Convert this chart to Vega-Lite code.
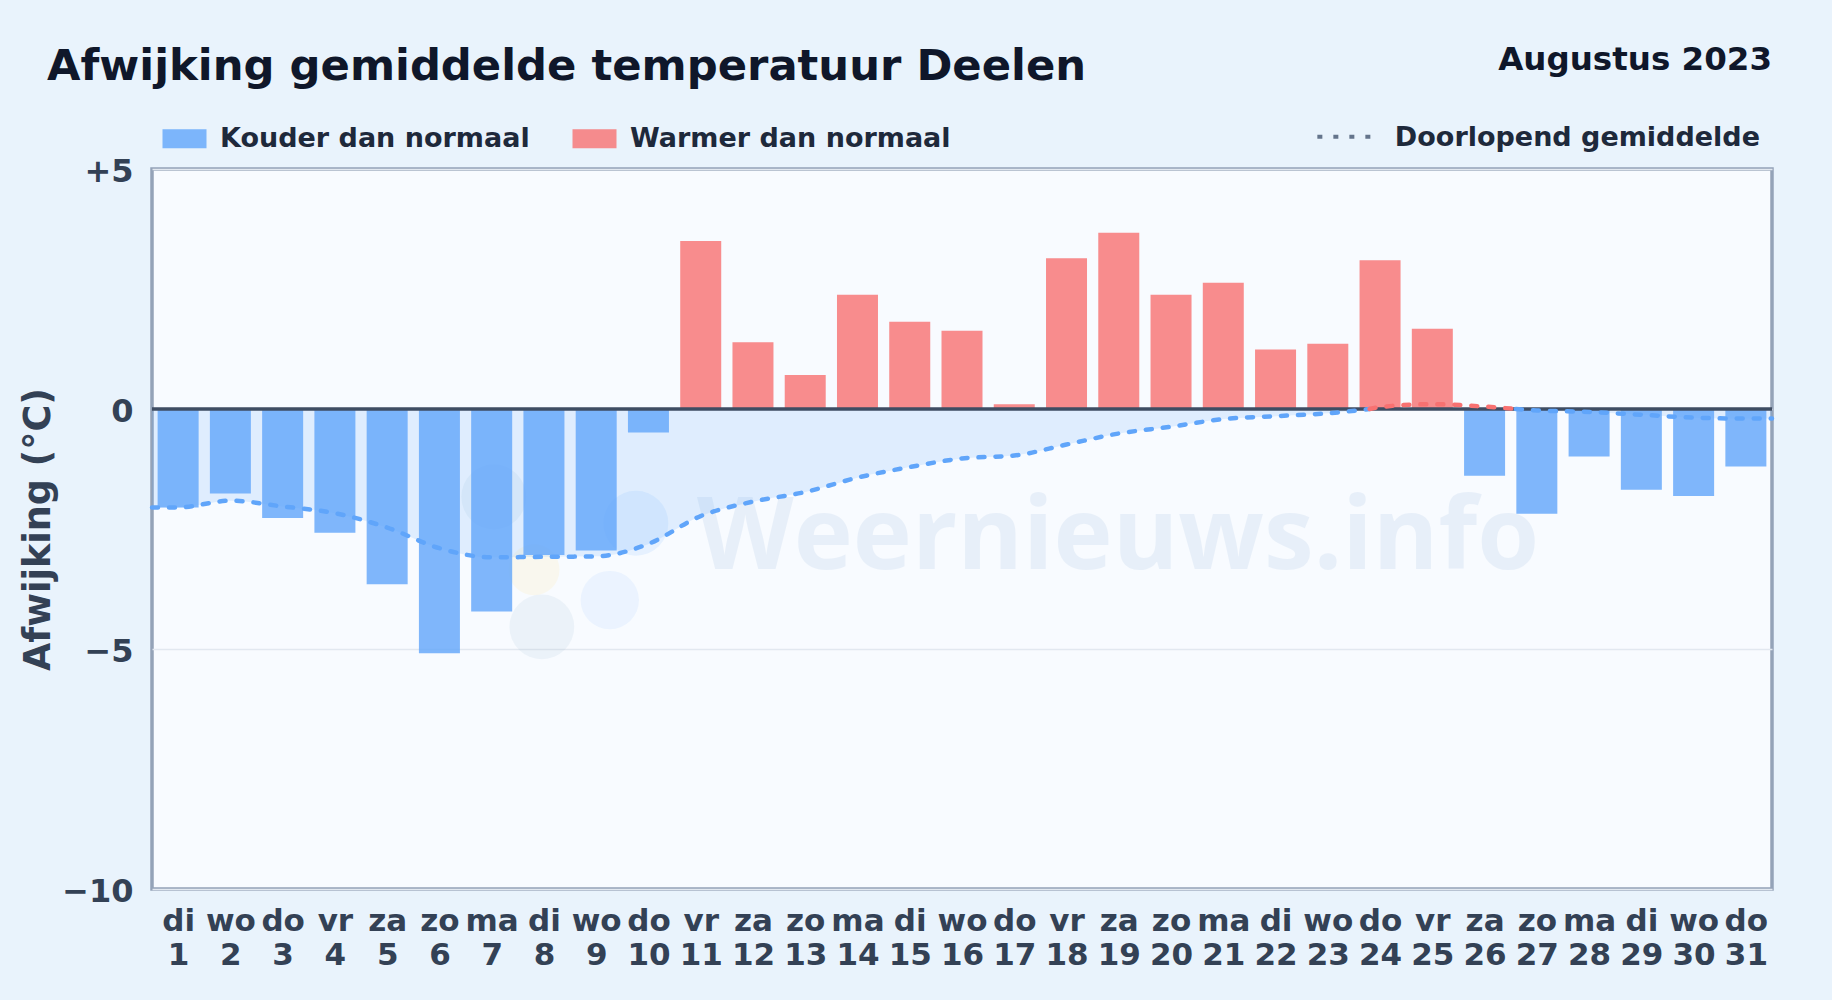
{"$schema":"https://vega.github.io/schema/vega-lite/v6.json","width":1620,"height":720,"autosize":{"type":"none"},"padding":{"left":152,"top":169,"right":60,"bottom":111},"background":"#e9f3fc","view":{"fill":"#f8fbff","stroke":"#94a3b8","strokeWidth":3.5},"datasets":{"daily":[{"day":1,"dev":-2.05,"kind":"Kouder dan normaal"},{"day":2,"dev":-1.76,"kind":"Kouder dan normaal"},{"day":3,"dev":-2.27,"kind":"Kouder dan normaal"},{"day":4,"dev":-2.58,"kind":"Kouder dan normaal"},{"day":5,"dev":-3.65,"kind":"Kouder dan normaal"},{"day":6,"dev":-5.09,"kind":"Kouder dan normaal"},{"day":7,"dev":-4.22,"kind":"Kouder dan normaal"},{"day":8,"dev":-3.04,"kind":"Kouder dan normaal"},{"day":9,"dev":-2.95,"kind":"Kouder dan normaal"},{"day":10,"dev":-0.49,"kind":"Kouder dan normaal"},{"day":11,"dev":3.5,"kind":"Warmer dan normaal"},{"day":12,"dev":1.39,"kind":"Warmer dan normaal"},{"day":13,"dev":0.71,"kind":"Warmer dan normaal"},{"day":14,"dev":2.38,"kind":"Warmer dan normaal"},{"day":15,"dev":1.82,"kind":"Warmer dan normaal"},{"day":16,"dev":1.63,"kind":"Warmer dan normaal"},{"day":17,"dev":0.1,"kind":"Warmer dan normaal"},{"day":18,"dev":3.14,"kind":"Warmer dan normaal"},{"day":19,"dev":3.67,"kind":"Warmer dan normaal"},{"day":20,"dev":2.38,"kind":"Warmer dan normaal"},{"day":21,"dev":2.63,"kind":"Warmer dan normaal"},{"day":22,"dev":1.24,"kind":"Warmer dan normaal"},{"day":23,"dev":1.36,"kind":"Warmer dan normaal"},{"day":24,"dev":3.1,"kind":"Warmer dan normaal"},{"day":25,"dev":1.67,"kind":"Warmer dan normaal"},{"day":26,"dev":-1.39,"kind":"Kouder dan normaal"},{"day":27,"dev":-2.18,"kind":"Kouder dan normaal"},{"day":28,"dev":-0.99,"kind":"Kouder dan normaal"},{"day":29,"dev":-1.68,"kind":"Kouder dan normaal"},{"day":30,"dev":-1.81,"kind":"Kouder dan normaal"},{"day":31,"dev":-1.2,"kind":"Kouder dan normaal"}],"avg":[{"day":0.5,"mean":-2.05,"sign":"neg","seg":"a"},{"day":1,"mean":-2.05,"sign":"neg","seg":"a"},{"day":2,"mean":-1.91,"sign":"neg","seg":"a"},{"day":3,"mean":-2.03,"sign":"neg","seg":"a"},{"day":4,"mean":-2.17,"sign":"neg","seg":"a"},{"day":5,"mean":-2.47,"sign":"neg","seg":"a"},{"day":6,"mean":-2.9,"sign":"neg","seg":"a"},{"day":7,"mean":-3.09,"sign":"neg","seg":"a"},{"day":8,"mean":-3.08,"sign":"neg","seg":"a"},{"day":9,"mean":-3.07,"sign":"neg","seg":"a"},{"day":10,"mean":-2.81,"sign":"neg","seg":"a"},{"day":11,"mean":-2.23,"sign":"neg","seg":"a"},{"day":12,"mean":-1.93,"sign":"neg","seg":"a"},{"day":13,"mean":-1.73,"sign":"neg","seg":"a"},{"day":14,"mean":-1.43,"sign":"neg","seg":"a"},{"day":15,"mean":-1.21,"sign":"neg","seg":"a"},{"day":16,"mean":-1.03,"sign":"neg","seg":"a"},{"day":17,"mean":-0.97,"sign":"neg","seg":"a"},{"day":18,"mean":-0.74,"sign":"neg","seg":"a"},{"day":19,"mean":-0.51,"sign":"neg","seg":"a"},{"day":20,"mean":-0.37,"sign":"neg","seg":"a"},{"day":21,"mean":-0.21,"sign":"neg","seg":"a"},{"day":22,"mean":-0.15,"sign":"neg","seg":"a"},{"day":23,"mean":-0.09,"sign":"neg","seg":"a"},{"day":23.8,"mean":0,"sign":"neg","seg":"a"},{"day":23.8,"mean":0,"sign":"pos","seg":"b"},{"day":24,"mean":0.04,"sign":"pos","seg":"b"},{"day":25,"mean":0.1,"sign":"pos","seg":"b"},{"day":26,"mean":0.05,"sign":"pos","seg":"b"},{"day":26.6,"mean":0,"sign":"pos","seg":"b"},{"day":26.6,"mean":0,"sign":"neg","seg":"c"},{"day":27,"mean":-0.03,"sign":"neg","seg":"c"},{"day":28,"mean":-0.06,"sign":"neg","seg":"c"},{"day":29,"mean":-0.12,"sign":"neg","seg":"c"},{"day":30,"mean":-0.18,"sign":"neg","seg":"c"},{"day":31,"mean":-0.2,"sign":"neg","seg":"c"},{"day":31.5,"mean":-0.2,"sign":"neg","seg":"c"}],"logo":[{"day":7.96,"val":-4.54,"part":"a"},{"day":9.26,"val":-3.98,"part":"b"},{"day":7.81,"val":-3.35,"part":"c"},{"day":7.04,"val":-1.83,"part":"a"},{"day":9.76,"val":-2.38,"part":"d"}]},"data":{"name":"daily"},"encoding":{"x":{"type":"quantitative","title":null,"scale":{"domain":[0.5,31.5],"nice":false,"zero":false,"padding":0},"axis":{"values":[1,2,3,4,5,6,7,8,9,10,11,12,13,14,15,16,17,18,19,20,21,22,23,24,25,26,27,28,29,30,31],"domain":false,"ticks":false,"grid":false,"labelFont":"DejaVu Sans","labelFontWeight":"bold","labelFontSize":31,"labelColor":"#334155","labelPadding":17,"labelLineHeight":34,"labelFlush":false,"labelBound":false,"labelOverlap":false,"labelExpr":"[split('di wo do vr za zo ma di wo do vr za zo ma di wo do vr za zo ma di wo do vr za zo ma di wo do',' ')[datum.value-1], '' + datum.value]"}},"y":{"type":"quantitative","title":"Afwijking (°C)","scale":{"domain":[-10,5],"nice":false,"zero":false},"axis":{"values":[5,0,-5,-10],"domain":false,"ticks":false,"grid":true,"gridColor":"#e2e8f0","gridWidth":1.5,"labelFont":"DejaVu Sans","labelFontWeight":"bold","labelFontSize":32,"labelColor":"#334155","labelPadding":19,"labelOffset":2,"labelExpr":"datum.value > 0 ? '+' + datum.value : datum.value < 0 ? '−' + abs(datum.value) : '0'","titleFont":"DejaVu Sans","titleFontWeight":"bold","titleFontSize":36.5,"titleColor":"#334155","titlePadding":4}}},"layer":[{"data":{"name":"logo"},"transform":[{"filter":"datum.part == 'a'"}],"mark":{"type":"point","filled":true,"size":4200,"opacity":0.1,"clip":true,"color":"#7da5c4"},"encoding":{"x":{"field":"day"},"y":{"field":"val"}}},{"data":{"name":"logo"},"transform":[{"filter":"datum.part == 'b'"}],"mark":{"type":"point","filled":true,"size":3400,"opacity":0.13,"clip":true,"color":"#93c5fd"},"encoding":{"x":{"field":"day"},"y":{"field":"val"}}},{"data":{"name":"logo"},"transform":[{"filter":"datum.part == 'c'"}],"mark":{"type":"point","filled":true,"size":2600,"opacity":0.14,"clip":true,"color":"#fde68a"},"encoding":{"x":{"field":"day"},"y":{"field":"val"}}},{"data":{"name":"logo"},"transform":[{"filter":"datum.part == 'd'"}],"mark":{"type":"point","filled":true,"size":4200,"opacity":0.18,"clip":true,"color":"#93c5fd"},"encoding":{"x":{"field":"day"},"y":{"field":"val"}}},{"data":{"values":[{"label":"Weernieuws.info"}]},"mark":{"type":"text","font":"Open Sans","fontSize":100,"fontWeight":700,"align":"left","baseline":"alphabetic","color":"#7ea6d6","opacity":0.13},"encoding":{"x":{"datum":10.93},"y":{"datum":-3.33},"text":{"field":"label"}}},{"data":{"name":"avg"},"transform":[{"filter":"datum.sign == 'neg'"}],"mark":{"type":"area","interpolate":"monotone","color":"#60a5fa","opacity":0.16},"encoding":{"x":{"field":"day"},"y":{"field":"mean"},"y2":{"datum":0},"detail":{"field":"seg"}}},{"mark":{"type":"bar","size":41,"opacity":0.8},"encoding":{"x":{"field":"day"},"y":{"field":"dev"},"y2":{"datum":0},"color":{"field":"kind","type":"nominal","scale":{"domain":["Kouder dan normaal","Warmer dan normaal"],"range":["#60a5fa","#f87171"]},"legend":{"title":null,"orient":"none","legendX":19,"legendY":-44,"direction":"horizontal","symbolType":"M-2.316,-1H2.316V1H-2.316Z","symbolSize":361,"symbolStrokeWidth":0,"labelFont":"DejaVu Sans","labelFontWeight":"bold","labelFontSize":27,"labelColor":"#1e293b","labelOffset":22,"columnPadding":42,"labelLimit":500}}}},{"data":{"values":[{"v":0}]},"mark":{"type":"rule","color":"#3f4d63","strokeWidth":3.5},"encoding":{"x":{"datum":0.5},"x2":{"datum":31.5},"y":{"datum":0}}},{"data":{"name":"avg"},"transform":[{"filter":"datum.sign == 'neg'"}],"mark":{"type":"line","interpolate":"monotone","color":"#60a5fa","strokeWidth":4.5,"strokeDash":[6,11],"strokeCap":"round"},"encoding":{"x":{"field":"day"},"y":{"field":"mean"},"detail":{"field":"seg"}}},{"data":{"name":"avg"},"transform":[{"filter":"datum.sign == 'pos'"}],"mark":{"type":"line","interpolate":"monotone","color":"#f87171","strokeWidth":4.5,"strokeDash":[6,11],"strokeCap":"round"},"encoding":{"x":{"field":"day"},"y":{"field":"mean"},"detail":{"field":"seg"}}},{"data":{"values":[{"v":1}]},"mark":{"type":"rule","color":"#64748b","strokeWidth":4,"strokeDash":[5,11]},"encoding":{"x":{"datum":22.8},"x2":{"datum":23.88},"y":{"datum":5.67}}},{"data":{"values":[{"label":"Doorlopend gemiddelde"}]},"mark":{"type":"text","font":"DejaVu Sans","fontWeight":"bold","fontSize":27,"align":"right","baseline":"middle","color":"#1e293b"},"encoding":{"x":{"datum":31.27},"y":{"datum":5.65},"text":{"field":"label"}}},{"data":{"values":[{"label":"Augustus 2023"}]},"mark":{"type":"text","font":"DejaVu Sans","fontWeight":"bold","fontSize":32.5,"align":"right","baseline":"middle","color":"#0f172a"},"encoding":{"x":{"datum":31.5},"y":{"datum":7.27},"text":{"field":"label"}}},{"data":{"values":[{"label":"Afwijking gemiddelde temperatuur Deelen"}]},"mark":{"type":"text","font":"DejaVu Sans","fontWeight":"bold","fontSize":43.3,"align":"left","baseline":"middle","color":"#0f172a"},"encoding":{"x":{"datum":-1.509},"y":{"datum":7.12},"text":{"field":"label"}}}]}
